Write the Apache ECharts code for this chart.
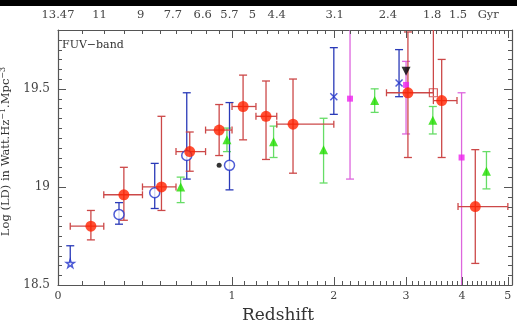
<!DOCTYPE html>
<html><head><meta charset="utf-8">
<script src="https://cdn.jsdelivr.net/npm/echarts@6/dist/echarts.min.js"></script>
<style>html,body{margin:0;padding:0;background:#fff}#c{width:517px;height:322px}</style>
</head><body><div id="c"></div>
<script>
// ---------- DATA (z = redshift, v = log LD) ----------
// Red filled circles
const redZ   = [0.14, 0.30, 0.51, 0.69, 0.90, 1.09, 1.29, 1.55, 3.03, 3.61, 4.27];
const redV   = [18.80, 18.96, 19.00, 19.18, 19.29, 19.41, 19.36, 19.32, 19.48, 19.44, 18.90];
const redZlo = [0.05, 0.20, 0.40, 0.60, 0.80, 1.00, 1.20, 1.39, 2.70, 3.46, 3.92];
const redZhi = [0.20, 0.40, 0.60, 0.80, 1.00, 1.20, 1.39, 2.00, 3.46, 3.90, 5.00];
const redVlo = [18.73, 18.83, 18.88, 19.08, 19.16, 19.24, 19.14, 19.07, 19.15, 19.15, 18.61];
const redVhi = [18.88, 19.10, 19.36, 19.28, 19.42, 19.57, 19.54, 19.55, 19.79, 19.65, 19.19];
// Blue open circles
const blueZ   = [0.275, 0.47, 0.67, 0.98];
const blueV   = [18.86, 18.97, 19.16, 19.11];
const blueVlo = [18.81, 18.89, 19.04, 18.985];
const blueVhi = [18.92, 19.12, 19.48, 19.43];
// Blue star
const starZ = [0.05], starV = [18.61], starVlo = [18.61], starVhi = [18.70];
// Blue crosses
const crossZ = [2.00, 2.89], crossV = [19.46, 19.53], crossVlo = [19.37, 19.46], crossVhi = [19.71, 19.70];
// Green triangles
const greenZ   = [0.63, 0.96, 1.36, 1.88, 2.53, 3.45, 4.51];
const greenV   = [19.00, 19.24, 19.23, 19.19, 19.44, 19.34, 19.08];
const greenVlo = [18.92, 19.18, 19.15, 19.02, 19.38, 19.27, 18.99];
const greenVhi = [19.05, 19.30, 19.31, 19.35, 19.50, 19.41, 19.18];
// Magenta squares
const magZ   = [2.20, 3.00, 3.99];
const magV   = [19.45, 19.52, 19.15];
const magVlo = [19.04, 19.27, 18.30];
const magVhi = [20.00, 19.64, 19.48];
// Black dot, black down-triangle, red open square
const dotZ = [0.90], dotV = [19.11];
const btriZ = [3.00], btriV = [19.59];
const osqZ = [3.46], osqV = [19.48], osqVlo = [19.48], osqVhi = [20.00];

// Axis labels
const xMajorZ = [0, 1, 2, 3, 4, 5];
const topLabels = ['13.47','11','9','7.7','6.6','5.7','5','4.4','3.1','2.4','1.8','1.5','Gyr'];
const topZ      = [0, 0.18, 0.39, 0.58, 0.78, 0.98, 1.17, 1.39, 2.01, 2.72, 3.44, 3.92, 4.55];
const yMajor = [18.5, 19, 19.5];

// ---------- build ----------
const X_MAX = 6.1, Y_MIN = 18.5, Y_MAX = 19.8;
const xMinor = [];
for (let i = 1; i <= 51; i++) { if (i % 10) xMinor.push(1 + i / 10); }
const yMinor = [];
for (let i = 1; i <= 26; i++) { if (i % 10) yMinor.push(+(18.5 + i * 0.05).toFixed(2)); }

const FONT = 'DejaVu Serif';
const AX = '#555';
const zip = (zs, vs, a, b) => zs.map((z, i) => a ? [z + 1, vs[i], a[i], b[i]] : [z + 1, vs[i]]);
const zipX = (zs, vs, a, b) => zs.map((z, i) => [z + 1, vs[i], a[i] + 1, b[i] + 1]);

// tick marks: [xValue, yValue, length, direction(1 up,2 down,3 right,4 left)]
const tickData = [];
xMajorZ.forEach(z => { tickData.push([z + 1, Y_MIN, 8, 1], [z + 1, Y_MAX, 8, 2]); });
xMinor.forEach(x => { tickData.push([x, Y_MIN, 4, 1], [x, Y_MAX, 4, 2]); });
yMajor.forEach(v => { tickData.push([1, v, 8, 3], [X_MAX, v, 8, 4]); });
yMinor.forEach(v => { tickData.push([1, v, 4, 3], [X_MAX, v, 4, 4]); });

function yErr(color, data, cap) {
  return {
    type: 'custom', xAxisIndex: 0, yAxisIndex: 0, clip: true, silent: true,
    encode: { x: 0, y: 1 }, data: data, z: 2,
    renderItem: function (params, api) {
      const x = api.value(0), lo = api.value(2), hi = api.value(3);
      const a = api.coord([x, lo]), b = api.coord([x, hi]);
      const st = { stroke: color, lineWidth: 1.3 };
      const ch = [{ type: 'line', shape: { x1: a[0], y1: a[1], x2: b[0], y2: b[1] }, style: st }];
      if (cap[0]) ch.push({ type: 'line', shape: { x1: a[0] - 4, y1: a[1], x2: a[0] + 4, y2: a[1] }, style: st });
      if (cap[1]) ch.push({ type: 'line', shape: { x1: b[0] - 4, y1: b[1], x2: b[0] + 4, y2: b[1] }, style: st });
      return { type: 'group', children: ch };
    }
  };
}
function xErr(color, data) {
  return {
    type: 'custom', xAxisIndex: 0, yAxisIndex: 0, clip: true, silent: true,
    encode: { x: 0, y: 1 }, data: data, z: 2,
    renderItem: function (params, api) {
      const y = api.value(1), lo = api.value(2), hi = api.value(3);
      const a = api.coord([lo, y]), b = api.coord([hi, y]);
      const st = { stroke: color, lineWidth: 1.3 };
      return { type: 'group', children: [
        { type: 'line', shape: { x1: a[0], y1: a[1], x2: b[0], y2: b[1] }, style: st },
        { type: 'line', shape: { x1: a[0], y1: a[1] - 3.5, x2: a[0], y2: a[1] + 3.5 }, style: st },
        { type: 'line', shape: { x1: b[0], y1: b[1] - 3.5, x2: b[0], y2: b[1] + 3.5 }, style: st }
      ] };
    }
  };
}
function pts(data, symbol, size, style, extra) {
  return Object.assign({
    type: 'scatter', xAxisIndex: 0, yAxisIndex: 0, data: data, symbol: symbol, symbolSize: size,
    itemStyle: style, z: 3, silent: true, animation: false
  }, extra || {});
}

const none = { show: false };
const lineStyle = { show: true, onZero: false, lineStyle: { color: AX, width: 1.2 } };
const base = { axisTick: none, splitLine: none, minorTick: none, minorSplitLine: none, axisLine: lineStyle };

const option = {
  animation: false,
  backgroundColor: '#fff',
  grid: { left: 58, right: 5, top: 30, bottom: 37, containLabel: false, outerBoundsMode: 'none' },
  graphic: [
    { type: 'rect', left: 0, top: 0, shape: { width: 517, height: 6 }, style: { fill: '#000' }, silent: true },
    { type: 'text', left: 62, top: 40, style: { text: 'FUV\u2212band', font: '11px "DejaVu Serif"', fill: '#333' }, silent: true }
  ],
  xAxis: [
    Object.assign({}, base, {
      type: 'log', logBase: 10, min: 1, max: X_MAX, position: 'bottom',
      axisLabel: { show: true, customValues: xMajorZ.map(z => z + 1), formatter: v => String(Math.round(v - 1)),
        fontFamily: FONT, fontSize: 11, color: '#444', margin: 6 },
      name: 'Redshift', nameLocation: 'middle', nameGap: 17,
      nameTextStyle: { fontFamily: FONT, fontSize: 17, color: '#333', padding: [0, 14, 0, 0] }
    }),
    Object.assign({}, base, {
      type: 'log', logBase: 10, min: 1, max: X_MAX, position: 'top',
      axisLabel: { show: true, customValues: topZ.map(z => z + 1),
        formatter: v => { const i = topZ.findIndex(z => Math.abs(z + 1 - v) < 1e-6); return i >= 0 ? topLabels[i] : ''; },
        fontFamily: FONT, fontSize: 11.5, color: '#444', margin: 9 }
    })
  ],
  yAxis: [
    Object.assign({}, base, {
      type: 'value', min: Y_MIN, max: Y_MAX, position: 'left',
      axisLabel: { show: true, customValues: yMajor, formatter: v => String(v), fontFamily: FONT, fontSize: 12, color: '#444', margin: 8 },
      name: 'Log (LD) in Watt.Hz{s|\u22121}.Mpc{s|\u22123}', nameLocation: 'middle', nameGap: 39, nameRotate: 90,
      nameTextStyle: { fontFamily: FONT, fontSize: 11.5, color: '#333', padding: [0, 0, 0, 12],
        rich: { s: { fontFamily: FONT, fontSize: 8, color: '#333', verticalAlign: 'top', lineHeight: 15 } } }
    }),
    Object.assign({}, base, {
      type: 'value', min: Y_MIN, max: Y_MAX, position: 'right', axisLabel: none
    })
  ],
  series: [
    // axis tick marks, placed through the axes' own scales (pixel-aligned for crispness)
    {
      type: 'custom', xAxisIndex: 0, yAxisIndex: 0, clip: false, silent: true, z: 10,
      encode: { x: 0, y: 1 }, data: tickData,
      renderItem: function (params, api) {
        const p = api.coord([api.value(0), api.value(1)]);
        const L = api.value(2), d = api.value(3);
        let x0 = p[0], y0 = p[1];
        if (d <= 2) x0 = Math.round(x0) + 0.5; else y0 = Math.round(y0) + 0.5;
        const dx = d === 3 ? L : d === 4 ? -L : 0;
        const dy = d === 1 ? -L : d === 2 ? L : 0;
        return { type: 'line', shape: { x1: x0, y1: y0, x2: x0 + dx, y2: y0 + dy },
          style: { stroke: AX, lineWidth: 1 } };
      }
    },
    // error bars
    yErr('#dd66dd', zip(magZ, magV, magVlo, magVhi), [true, true]),
    yErr('#66dd66', zip(greenZ, greenV, greenVlo, greenVhi), [true, true]),
    yErr('#2a3ab8', zip(blueZ, blueV, blueVlo, blueVhi), [true, true]),
    yErr('#2a3ab8', zip(starZ, starV, starVlo, starVhi), [false, true]),
    yErr('#2a3ab8', zip(crossZ, crossV, crossVlo, crossVhi), [true, true]),
    yErr('#cc4848', zip(osqZ, osqV, osqVlo, osqVhi), [false, true]),
    yErr('#cc4848', zip(redZ, redV, redVlo, redVhi), [true, true]),
    xErr('#cc4848', zipX(redZ, redV, redZlo, redZhi)),
    // markers
    pts(zip(magZ, magV), 'rect', 6, { color: '#ee22ee' }),
    pts(zip(greenZ, greenV), 'triangle', 9, { color: '#22dd00' }),
    pts(zip(blueZ, blueV), 'circle', 10, { color: '#fff', borderColor: '#2233cc', borderWidth: 1.5 }),
    pts(zip(starZ, starV), 'path://M50,0 L61,35 L98,35 L68,57 L79,91 L50,70 L21,91 L32,57 L2,35 L39,35 Z', 8,
      { color: '#fff', borderColor: '#2233cc', borderWidth: 1.5 }),
    pts(zip(crossZ, crossV), 'path://M0,0 L10,10 M10,0 L0,10', 7, { color: 'none', borderColor: '#2233cc', borderWidth: 1.5 }),
    pts(zip(dotZ, dotV), 'circle', 5, { color: '#000' }),
    pts(zip(redZ, redV), 'circle', 11, { color: '#ff2200' }),
    pts(zip(osqZ, osqV), 'rect', 8, { color: 'none', borderColor: '#cc3333', borderWidth: 1.2 }),
    pts(zip(btriZ, btriV), 'triangle', 9, { color: '#000' }, { symbolRotate: 180 })
  ]
};
const chart = echarts.init(document.getElementById('c'), null, { renderer: 'canvas' });
chart.setOption(option);
</script>
</body></html>
